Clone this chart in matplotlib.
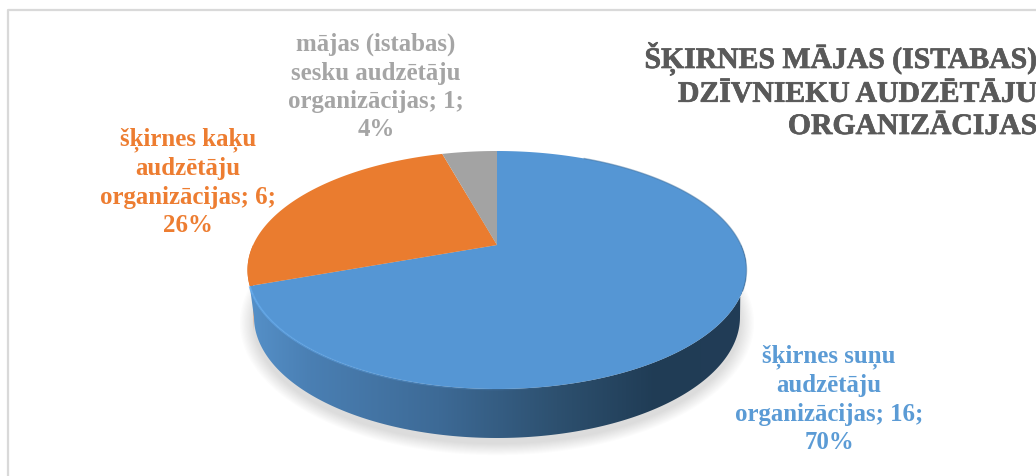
import numpy as np
import matplotlib
matplotlib.use("Agg")
import matplotlib.pyplot as plt
import matplotlib.patheffects as pe
from matplotlib.colors import LinearSegmentedColormap
from matplotlib.patches import Polygon

# --- data ---
categories = ["šķirnes suņu\naudzētāju\norganizācijas", "šķirnes kaķu\naudzētāju\norganizācijas", "mājas (istabas)\nsesku audzētāju\norganizācijas"]
values = [16, 6, 1]
percents = [70, 26, 4]
colors = ["#5596d4", "#ea7c2f", "#a3a3a3"]
title_lines = "ŠĶIRNES MĀJAS (ISTABAS)\nDZĪVNIEKU AUDZĒTĀJU\nORGANIZĀCIJAS"
label_xy = [(829, 399), (188, 182), (376, 87)]

plt.rcParams["font.family"] = "Liberation Serif"
fig = plt.figure(figsize=(10.36, 4.76), dpi=100)
ax = fig.add_axes([0, 0, 1, 1])
ax.set_xlim(0, 1036)
ax.set_ylim(476, 0)
ax.axis("off")

# Pie geometry in pixel-like axis units
CX, CY, A, B = 497.0, 270.0, 249.5, 119.0
K = 0.21  # perspective shift of the apex
LCX, LCY, LA, LB = 497.0, 317.0, 243.0, 121.0


def rim(theta):
    """Clockwise angle from the top -> point on the tilted rim."""
    x, y = np.sin(theta), np.cos(theta)
    d = 1 + K * y
    return CX + A * x * np.sqrt(1 - K**2) / d, CY - B * (y + K) / d


apex = (CX, CY - B * K)
edges = np.cumsum([0] + values) / sum(values) * 2 * np.pi

# soft shadow
for grow in np.linspace(14, 0, 12):
    t = np.linspace(0, 2 * np.pi, 240)
    ax.fill(LCX + (LA + grow) * np.cos(t), LCY + 6 + (LB + grow * 0.8) * np.sin(t),
            color="#8a8a8a", alpha=0.022, lw=0, zorder=1)

# outer wall, lower rim
t_low = np.linspace(0, np.pi, 200)
low_x, low_y = LCX + LA * np.cos(t_low), LCY + LB * np.sin(t_low)

# orange sliver of the wall on the far left
end_blue = edges[1]
th_or = np.linspace(end_blue, 1.5 * np.pi, 30)
ox, oy = rim(th_or)
ax.add_patch(Polygon(np.r_[np.c_[ox, oy], [[low_x[-1] - 1, low_y[-1] + 14], [low_x[-1], low_y[-1] - 30]]],
                     closed=True, fc="#d9702a", ec="none", zorder=2))

# blue wall with horizontal gradient
th_wall = np.linspace(0.5 * np.pi, end_blue, 300)
wx, wy = rim(th_wall)
wall = Polygon(np.r_[np.c_[wx, wy], np.c_[low_x, low_y][::-1]],
               closed=True, fc="none", ec="none", transform=ax.transData)
ax.add_patch(wall)
cmap = LinearSegmentedColormap.from_list("wall", [(0, "#5590c8"), (0.12, "#4a7fb3"), (0.38, "#3d6a96"),
                                                   (0.62, "#2d506f"), (0.82, "#203c55"), (1, "#223d57")])
im = ax.imshow(np.linspace(0, 1, 256)[None, :], cmap=cmap, extent=(250, 746, 450, 150),
               aspect="auto", zorder=3, interpolation="bilinear")
im.set_clip_path(wall)
ax.set_xlim(0, 1036)
ax.set_ylim(476, 0)

# top faces
for v0, v1, col in zip(edges[:-1], edges[1:], colors):
    th = np.linspace(v0, v1, max(int((v1 - v0) * 80), 8))
    x, y = rim(th)
    ax.fill(np.r_[apex[0], x], np.r_[apex[1], y], color=col, lw=0, zorder=4)

# bevel highlight along the near-left rim, fading out toward the bottom
th_hi = np.linspace(end_blue, np.pi * 0.92, 40)
for a, b, alpha in zip(th_hi[:-1], th_hi[1:], np.linspace(0.75, 0.0, 39)):
    hx, hy = rim(np.linspace(a, b, 6))
    ax.plot(hx, hy + 0.3, color="#62aaee", lw=1.6, alpha=alpha, zorder=5, solid_capstyle="butt")
# darker bevel on the right rim
th_dk = np.linspace(np.pi * 0.14, np.pi * 0.62, 100)
dx, dy = rim(th_dk)
ax.plot(dx, dy, color="#3f6f9c", lw=1.0, alpha=0.5, zorder=5)

# chart frame
ax.plot([7.5, 7.5, 1036], [476, 9.5, 9.5], color="#d9d9d9", lw=1.6, zorder=0)

# labels
label_colors = ["#5b9bd5", "#ed7d31", "#a5a5a5"]
for name, v, p, (lx, ly), col in zip(categories, values, percents, label_xy, label_colors):
    ax.text(lx, ly, f"{name}; {v};\n{p}%", ha="center", va="center", color=col, fontsize=17.9,
            fontweight="bold", linespacing=1.3, zorder=6)

title = ax.text(1038, 91, title_lines, ha="right", va="center", color="#595959", fontsize=21.4,
                fontweight="bold", linespacing=1.25, zorder=6, clip_on=True)
title.set_path_effects([pe.withStroke(linewidth=0.5, foreground="#595959")])

fig.savefig("out.png", dpi=100)
